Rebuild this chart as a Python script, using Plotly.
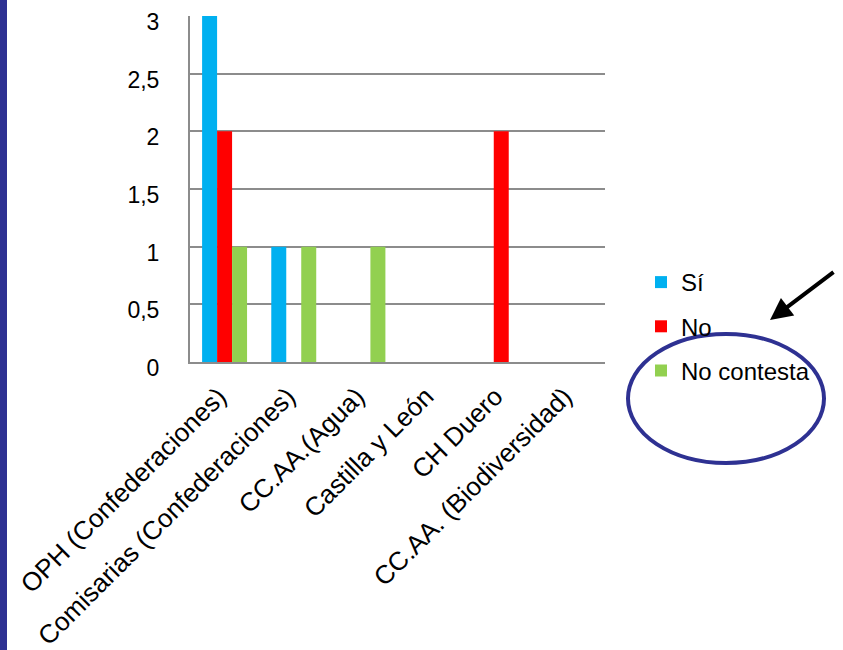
import plotly.graph_objects as go

categories = ["OPH (Confederaciones)", "Comisarias (Confederaciones)", "CC.AA.(Agua)",
              "Castilla y León", "CH Duero", "CC.AA. (Biodiversidad)"]
si = [3, 1, 0, 0, 0, 0]
no = [2, 0, 0, 0, 2, 0]
no_contesta = [1, 1, 1, 0, 0, 0]
series_names = ["Sí", "No", "No contesta"]
series_colors = ["#00B0F0", "#FF0000", "#92D050"]
y_ticks = [0, 0.5, 1, 1.5, 2, 2.5, 3]

FONT = "Arial, Liberation Sans, sans-serif"
W, H = 843, 650
L, R, T, B = 190, 238, 16, 288
pw, ph = W - L - R, H - T - B

fig = go.Figure()
for i, (name, vals, col) in enumerate(zip(series_names, [si, no, no_contesta], series_colors)):
    fig.add_trace(go.Bar(x=categories, y=vals, name=name, marker_color=col,
                         marker_line_width=0, legendgroup=str(i)))

def px(x):
    return (x - L) / pw

def py(y):
    return (H - B - y) / ph

shapes = [
    # left decorative stripe
    dict(type="rect", xref="paper", yref="paper", x0=px(0), x1=px(7), y0=py(0), y1=py(H),
         fillcolor="#2E3192", line_width=0, layer="above"),
    # ellipse
    dict(type="circle", xref="paper", yref="paper", x0=px(628), x1=px(824), y0=py(334), y1=py(463),
         line=dict(color="#2E3192", width=4), fillcolor="rgba(0,0,0,0)"),
]

annotations = [
    dict(xref="paper", yref="paper", x=px(770), y=py(320), ax=65, ay=-49,
         axref="pixel", ayref="pixel", showarrow=True, arrowhead=2, arrowsize=1.1,
         arrowwidth=4, arrowcolor="black", text=""),
]

fig.update_layout(
    width=W, height=H,
    margin=dict(l=L, r=R, t=T, b=B, autoexpand=False),
    paper_bgcolor="white", plot_bgcolor="white",
    font=dict(family=FONT, size=24, color="black"),
    separators=", ",
    barmode="group", bargap=0.35, bargroupgap=0,
    showlegend=True,
    legend=dict(x=px(641), y=py(260), xanchor="left", yanchor="top",
                font=dict(size=24, family=FONT), tracegroupgap=10,
                bgcolor="rgba(0,0,0,0)", traceorder="grouped"),
    shapes=shapes, annotations=annotations,
)
fig.update_yaxes(range=[0, 3], tickvals=y_ticks, showgrid=True, gridcolor="#8C8C8C", gridwidth=2,
                 zeroline=False, showline=True, linecolor="#8C8C8C", linewidth=2,
                 ticklabelstandoff=24, ticklabelshift=6, automargin=False,
                 tickfont=dict(size=23))
fig.update_xaxes(tickangle=-45, showline=True, linecolor="#8C8C8C", linewidth=2,
                 ticklabelstandoff=7, ticklabelshift=-6,
                 automargin=False, tickfont=dict(size=26))

fig.write_html("out.html", config={"displayModeBar": False},
               post_script="document.body.style.margin='0';")
